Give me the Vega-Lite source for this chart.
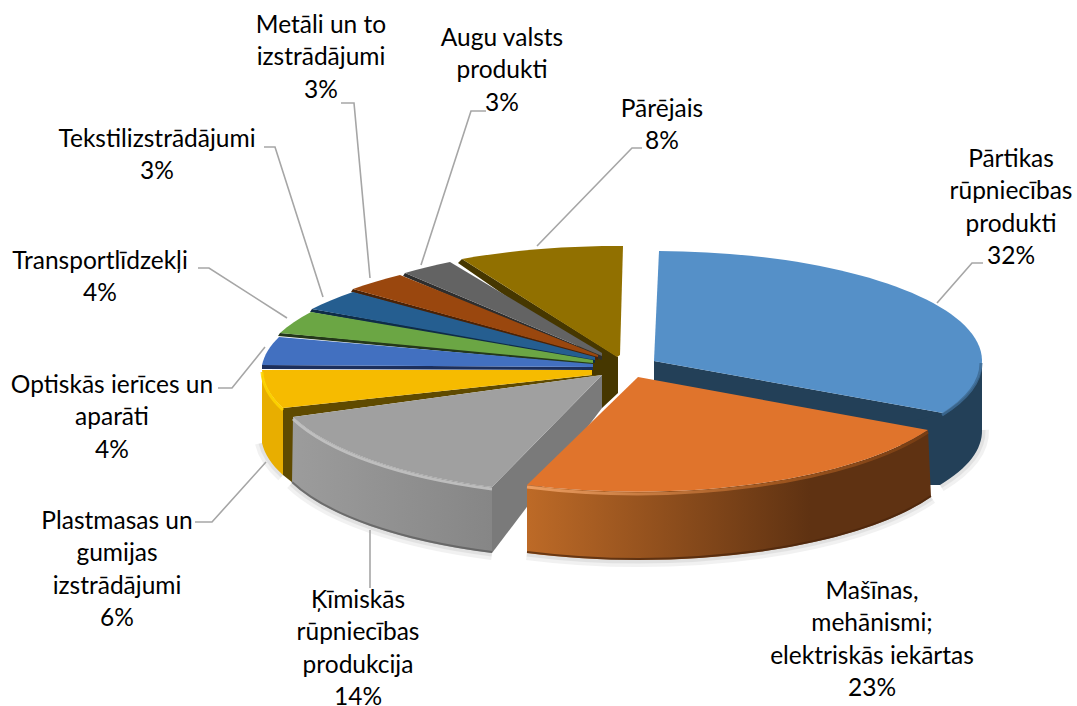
{
"$schema":"https://vega.github.io/schema/vega-lite/v6.json",
"width":1077,"height":706,"padding":0,"autosize":{"type":"none"},
"background":"white",
"config":{"view":{"stroke":null}},
"data":{"values":[
{"name":"Pārējais","share":8,"rank":10,"label":"Pārējais\n8%"},
{"name":"Augu valsts produkti","share":3,"rank":9,"label":"Augu valsts\nprodukti\n3%"},
{"name":"Metāli un to izstrādājumi","share":3,"rank":8,"label":"Metāli un to\nizstrādājumi\n3%"},
{"name":"Tekstilizstrādājumi","share":3,"rank":7,"label":"Tekstilizstrādājumi\n3%"},
{"name":"Transportlīdzekļi","share":4,"rank":6,"label":"Transportlīdzekļi\n4%"},
{"name":"Optiskās ierīces un aparāti","share":4,"rank":5,"label":"Optiskās ierīces un\naparāti\n4%"},
{"name":"Plastmasas un gumijas izstrādājumi","share":6,"rank":4,"label":"Plastmasas un\ngumijas\nizstrādājumi\n6%"},
{"name":"Pārtikas rūpniecības produkti","share":32,"rank":1,"label":"Pārtikas\nrūpniecības\nprodukti\n32%"},
{"name":"Ķīmiskās rūpniecības produkcija","share":14,"rank":3,"label":"Ķīmiskās\nrūpniecības\nprodukcija\n14%"},
{"name":"Mašīnas, mehānismi; elektriskās iekārtas","share":23,"rank":2,"label":"Mašīnas,\nmehānismi;\nelektriskās iekārtas\n23%"}
]},
"encoding":{
"x":{"field":"rank","type":"quantitative","axis":null,"scale":{"domain":[1,2,3,4,5,6,7,8,9,10],"range":[654,638,602,592,593,593,595,598,602,617],"zero":false,"nice":false}},
"y":{"field":"rank","type":"quantitative","axis":null,"scale":{"domain":[1,2,3,4,5,6,7,8,9,10],"range":[361,377,375,372,365,362,358,356,355,357],"zero":false,"nice":false}}
},
"layer":[
{"transform":[{"filter":"datum.rank <= 4"}],
"mark":{"type":"point","filled":false,"size":4,"stroke":"#000000","strokeWidth":14,"opacity":0.05},
"encoding":{
"shape":{"field":"name","type":"nominal","legend":null,"scale":{"domain":["Plastmasas un gumijas izstrādājumi","Pārtikas rūpniecības produkti","Ķīmiskās rūpniecības produkcija","Mašīnas, mehānismi; elektriskās iekārtas"],"range":["M-330,71 A338 115 0 0 0 -309,103","M328,69 A328 110 0 0 1 286,124","M-110,178 A330 119 0 0 1 -310,108","M293,120 A328 115 0 0 1 -111,176"]}}
}},
{"transform":[{"filter":"datum.rank <= 4"}],
"mark":{"type":"point","filled":false,"size":4,"stroke":"#000000","strokeWidth":7,"opacity":0.06},
"encoding":{
"shape":{"field":"name","type":"nominal","legend":null,"scale":{"domain":["Plastmasas un gumijas izstrādājumi","Pārtikas rūpniecības produkti","Ķīmiskās rūpniecības produkcija","Mašīnas, mehānismi; elektriskās iekārtas"],"range":["M-330,71 A338 115 0 0 0 -309,103","M328,69 A328 110 0 0 1 286,124","M-110,178 A330 119 0 0 1 -310,108","M293,120 A328 115 0 0 1 -111,176"]}}
}},
{"transform":[{"filter":"datum.rank != 2"}],
"mark":{"type":"point","filled":true,"opacity":1,"size":4},
"encoding":{
"shape":{"field":"name","type":"nominal","legend":null,"scale":{"domain":["Pārējais","Augu valsts produkti","Metāli un to izstrādājumi","Tekstilizstrādājumi","Transportlīdzekļi","Optiskās ierīces un aparāti","Plastmasas un gumijas izstrādājumi","Pārtikas rūpniecības produkti","Ķīmiskās rūpniecības produkcija"],
"range":["M-159,-94 L-155,-98 L1,0 L1,36 L-15,51 L-15,18 L-25,18 L-25,-1 Z","M-197,-82 L0,1 L0,5 L-199,-79 Z","M-245,-67 L0,0 L0,4 L-247,-64 Z","M-283,-49 L0,0 L0,5 L-285,-46 Z","M-313,-29 L0,-1 L0,3 L-315,-26 Z","M-331,0 L0,2 L0,5 L-331,4 Z","M-309,36 L0,3 L11,3 L-299,45 L-299,111 L-309,103 Z","M0,0 L0,22 L270,90 L289,52 Z","M0,0 L-110,112 L-110,178 L0,33 Z"]}},
"fill":{"field":"name","type":"nominal","legend":null,"scale":{"domain":["Pārējais","Augu valsts produkti","Metāli un to izstrādājumi","Tekstilizstrādājumi","Transportlīdzekļi","Optiskās ierīces un aparāti","Plastmasas un gumijas izstrādājumi","Pārtikas rūpniecības produkti","Ķīmiskās rūpniecības produkcija"],
"range":["#463700","#2e2e2e","#4a2206","#0f2c47","#24381a","#1c2f5c","#5f4a00","#234058","#7a7a7a"]}}
}},
{"transform":[{"filter":"datum.rank == 1 || datum.rank == 4"}],
"mark":{"type":"point","filled":true,"opacity":1,"size":4},
"encoding":{
"shape":{"field":"name","type":"nominal","legend":null,"scale":{"domain":["Plastmasas un gumijas izstrādājumi","Pārtikas rūpniecības produkti"],
"range":["M-330,-2 L-330,71 A338 115 0 0 0 -309,103 L-309,36 A338 115 0 0 1 -330,-2 Z","M328,-1 L328,69 A328 110 0 0 1 286,124 L260,124 L260,60 L289,52 A328 110 0 0 0 328,-1 Z"]}},
"fill":{"field":"name","type":"nominal","legend":null,"scale":{"domain":["Plastmasas un gumijas izstrādājumi","Pārtikas rūpniecības produkti"],"range":["#e8ae00","#234058"]}}
}},
{"transform":[{"filter":"datum.rank == 3"}],
"mark":{"type":"point","filled":true,"opacity":1,"size":4,"fill":{"gradient":"linear","x1":0,"y1":0,"x2":1,"y2":0,"stops":[{"offset":0,"color":"#9c9c9c"},{"offset":1,"color":"#868686"}]}},
"encoding":{
"shape":{"field":"name","type":"nominal","legend":null,"scale":{"domain":["Ķīmiskās rūpniecības produkcija"],"range":["M-110,112 L-110,178 A330 119 0 0 1 -310,108 L-309,42 A330 119 0 0 0 -110,112 Z"]}}
}},
{"transform":[{"filter":"datum.rank == 2"}],
"mark":{"type":"point","filled":true,"opacity":1,"size":4,"fill":{"gradient":"linear","x1":0,"y1":0,"x2":1,"y2":0,"stops":[{"offset":0,"color":"#bd6a27"},{"offset":0.7,"color":"#5f3212"},{"offset":1,"color":"#5f3212"}]}},
"encoding":{
"shape":{"field":"name","type":"nominal","legend":null,"scale":{"domain":["Mašīnas, mehānismi; elektriskās iekārtas"],"range":["M290,53 L293,120 A328 115 0 0 1 -111,176 L-111,108 A328 115 0 0 0 290,53 Z"]}}
}},
{"mark":{"type":"point","filled":true,"opacity":1,"size":4},
"encoding":{
"shape":{"field":"name","type":"nominal","legend":null,"scale":{"domain":["Pārējais","Augu valsts produkti","Metāli un to izstrādājumi","Tekstilizstrādājumi","Transportlīdzekļi","Optiskās ierīces un aparāti","Plastmasas un gumijas izstrādājumi","Pārtikas rūpniecības produkti","Ķīmiskās rūpniecības produkcija","Mašīnas, mehānismi; elektriskās iekārtas"],
"range":["M0,0 L-155,-98 A328 111 0 0 1 6,-111 L3,-2 Z","M0,1 L-197,-82 A338 112 0 0 1 -152,-93 L0,-2 Z","M0,1 L-245,-67 A338 112 0 0 1 -198,-81 L0,-1 Z","M0,2 L-283,-49 A338 112 0 0 1 -242,-66 L0,-1 Z","M0,1 L-313,-29 A338 112 0 0 1 -282,-50 L0,-2 Z","M0,2 L-331,0 A338 112 0 0 1 -314,-28 L0,-1 Z","M0,3 L-309,36 A338 115 0 0 1 -330,-2 L0,-2 Z","M0,0 L5,-110 A328 110 0 0 1 328,-1 A328 110 0 0 1 289,52 Z","M0,0 L-110,112 A330 119 0 0 1 -309,42 Z","M0,0 L290,53 A328 115 0 0 1 -111,108 Z"]}},
"fill":{"field":"name","type":"nominal","legend":null,"scale":{"domain":["Pārējais","Augu valsts produkti","Metāli un to izstrādājumi","Tekstilizstrādājumi","Transportlīdzekļi","Optiskās ierīces un aparāti","Plastmasas un gumijas izstrādājumi","Pārtikas rūpniecības produkti","Ķīmiskās rūpniecības produkcija","Mašīnas, mehānismi; elektriskās iekārtas"],
"range":["#917000","#636363","#9a470e","#255e90","#6ba644","#4270c0","#f6bb00","#5590c8","#a0a0a0","#e0742c"]}}
}},
{"transform":[{"filter":"datum.rank == 1 || datum.rank == 3 || datum.rank == 4"}],
"mark":{"type":"point","filled":false,"size":4,"strokeWidth":3,"opacity":0.85},
"encoding":{
"shape":{"field":"name","type":"nominal","legend":null,"scale":{"domain":["Plastmasas un gumijas izstrādājumi","Pārtikas rūpniecības produkti","Ķīmiskās rūpniecības produkcija"],"range":["M-309,38 A338 115 0 0 1 -330,0","M288,54 A328 110 0 0 0 327,2","M-110,114 A330 119 0 0 1 -309,44"]}},
"stroke":{"field":"name","type":"nominal","legend":null,"scale":{"domain":["Plastmasas un gumijas izstrādājumi","Pārtikas rūpniecības produkti","Ķīmiskās rūpniecības produkcija"],"range":["#ffd600","#3e6c96","#c6c6c6"]}}
}},
{"transform":[{"filter":"datum.rank == 2"}],
"mark":{"type":"point","filled":false,"size":4,"strokeWidth":3,"opacity":0.9,"stroke":{"gradient":"linear","x1":0,"y1":0,"x2":1,"y2":0,"stops":[{"offset":0,"color":"#f2a468"},{"offset":0.6,"color":"#a85c22"},{"offset":1,"color":"#7a3f14"}]}},
"encoding":{
"shape":{"field":"name","type":"nominal","legend":null,"scale":{"domain":["Mašīnas, mehānismi; elektriskās iekārtas"],"range":["M-111,110 A328 115 0 0 0 290,55"]}}
}},
{"transform":[{"filter":"datum.rank == 2 || datum.rank == 3"}],
"mark":{"type":"point","filled":false,"size":4,"strokeWidth":2,"opacity":0.7},
"encoding":{
"shape":{"field":"name","type":"nominal","legend":null,"scale":{"domain":["Ķīmiskās rūpniecības produkcija","Mašīnas, mehānismi; elektriskās iekārtas"],"range":["M-110,177 A330 119 0 0 1 -310,107","M293,119 A328 115 0 0 1 -111,175"]}},
"stroke":{"field":"name","type":"nominal","legend":null,"scale":{"domain":["Ķīmiskās rūpniecības produkcija","Mašīnas, mehānismi; elektriskās iekārtas"],"range":["#5a5a5a","#4a250c"]}}
}},
{"transform":[{"filter":"datum.rank != 2"}],
"mark":{"type":"point","filled":false,"opacity":1,"size":4,"stroke":"#a6a6a6","strokeWidth":1.6},
"encoding":{
"shape":{"field":"name","type":"nominal","legend":null,"scale":{"domain":["Pārējais","Augu valsts produkti","Metāli un to izstrādājumi","Tekstilizstrādājumi","Transportlīdzekļi","Optiskās ierīces un aparāti","Plastmasas un gumijas izstrādājumi","Pārtikas rūpniecības produkti","Ķīmiskās rūpniecības produkcija"],
"range":["M25,-209 L15,-209 L-80,-111","M-116,-244 L-131,-244 L-181,-90","M-257,-253 L-244,-253 L-228,-78","M-331,-211 L-320,-211 L-272,-61","M-395,-94 L-384,-94 L-306,-44","M-375,23 L-361,23 L-328,-18","M-397,150 L-380,150 L-326,90","M329,-98 L318,-98 L283,-58","M-232,155 L-232,213"]}}
}},
{"mark":{"type":"text","font":"Lato","fontSize":24.5,"align":"center","baseline":"alphabetic","lineBreak":"\n","lineHeight":32.3,"color":"#000000"},
"encoding":{
"text":{"field":"label","type":"nominal"},
"x":{"field":"rank","type":"quantitative","axis":null,"scale":{"domain":[1,2,3,4,5,6,7,8,9,10],"range":[1011,872,358,117,112,100,157,321,502,662],"zero":false,"nice":false}},
"y":{"field":"rank","type":"quantitative","axis":null,"scale":{"domain":[1,2,3,4,5,6,7,8,9,10],"range":[167,599,608,529,393,269,147,33,46,117],"zero":false,"nice":false}}
}}
],
"resolve":{"scale":{"x":"independent","y":"independent","shape":"independent","fill":"independent","stroke":"independent"}}
}
